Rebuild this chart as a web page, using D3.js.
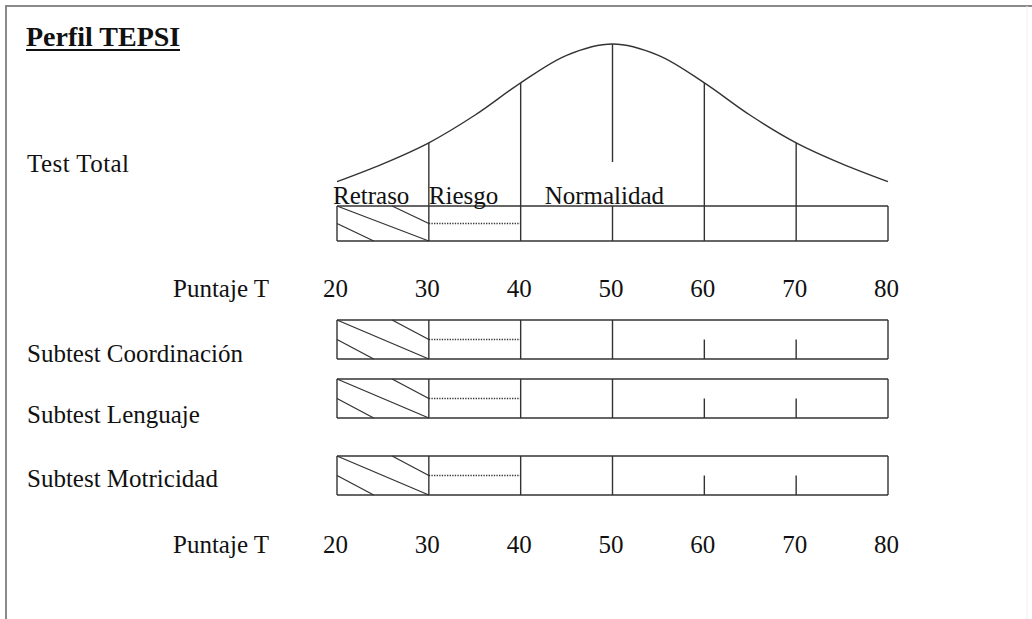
<!DOCTYPE html>
<html>
<head>
<meta charset="utf-8">
<script src="https://cdn.jsdelivr.net/npm/d3@7"></script>
<style>
  body { margin: 0; background: #fff; }
  text { font-family: "Liberation Serif", "Times New Roman", serif; fill: #111; }
</style>
</head>
<body>
<script>
// puntaje T scale values
var ticks = [20, 30, 40, 50, 60, 70, 80];
var zones = ["Retraso", "Riesgo", "Normalidad"];
var zoneStart = [20, 30, 40];
// bell curve (relative height, peak = 100)
var curveX = [20, 25, 30, 35, 40, 45, 50, 55, 60, 65, 70, 75, 80];
var curveY = [15, 26, 39, 56, 76, 93, 100, 93, 76, 56, 39, 26, 15];
var subtests = ["Subtest Coordinación", "Subtest Lenguaje", "Subtest Motricidad"];

var W = 1032, H = 619, ink = "#333", fs = 25;

var svg = d3.select("body").append("svg").attr("width", W).attr("height", H);

// frame
svg.append("line").attr("x1", 6).attr("y1", 6).attr("x2", W).attr("y2", 6)
   .attr("stroke", "#8a8a8a").attr("stroke-width", 2);
svg.append("line").attr("x1", 6).attr("y1", 5).attr("x2", 6).attr("y2", H)
   .attr("stroke", "#8a8a8a").attr("stroke-width", 2);
svg.append("line").attr("x1", 1027).attr("y1", 6).attr("x2", 1027).attr("y2", H)
   .attr("stroke", "#eee").attr("stroke-width", 1);

var x = d3.scaleLinear().domain([20, 80]).range([337, 888]);
var yc = d3.scaleLinear().domain([0, 100]).range([206, 44]);

// title
svg.append("text").attr("x", 26).attr("y", 46).attr("font-size", 28)
   .attr("font-weight", "bold").text("Perfil TEPSI");
svg.append("line").attr("x1", 26).attr("x2", 180).attr("y1", 50).attr("y2", 50)
   .attr("stroke", "#111").attr("stroke-width", 2);

// ---- test total ----
var top0 = 206, bot0 = 241;

var line = d3.line().x(function(d, i){ return x(curveX[i]); })
                    .y(function(d){ return yc(d); })
                    .curve(d3.curveCatmullRom);
svg.append("path").datum(curveY).attr("d", line)
   .attr("fill", "none").attr("stroke", ink).attr("stroke-width", 1.4);

svg.append("text").attr("x", 27).attr("y", 172).attr("font-size", fs)
   .attr("textLength", 102).text("Test Total");

function curveAt(v){ return yc(curveY[curveX.indexOf(v)]); }

// verticals from curve down
svg.selectAll("line.vc")
  .data([30, 40, 60, 70])
  .enter().append("line")
  .attr("class", "vc")
  .attr("x1", function(d){ return x(d); }).attr("x2", function(d){ return x(d); })
  .attr("y1", function(d){ return curveAt(d); }).attr("y2", bot0)
  .attr("stroke", ink).attr("stroke-width", 1.4);
// centre line
svg.append("line").attr("x1", x(50)).attr("x2", x(50)).attr("y1", curveAt(50)).attr("y2", 162)
   .attr("stroke", ink).attr("stroke-width", 1.4);

function bar(yTop, yBot, full){
  var g = svg.append("g");
  g.append("line").attr("x1", x(20)).attr("x2", x(80)).attr("y1", yTop).attr("y2", yTop)
   .attr("stroke", ink).attr("stroke-width", 1.4);
  g.append("line").attr("x1", x(20)).attr("x2", x(80)).attr("y1", yBot).attr("y2", yBot)
   .attr("stroke", ink).attr("stroke-width", 1.4);
  g.selectAll("line.v")
    .data(full)
    .enter().append("line").attr("class", "v")
    .attr("x1", function(d){ return x(d); }).attr("x2", function(d){ return x(d); })
    .attr("y1", yTop).attr("y2", yBot)
    .attr("stroke", ink).attr("stroke-width", 1.4);
  // hatching in Retraso
  var x0 = x(20), x1 = x(30), h = yBot - yTop, w = x1 - x0;
  var hatch = [[0, 0, 1, 1], [0.6, 0, 1, 0.5], [0, 0.5, 0.4, 1]];
  g.selectAll("line.h")
    .data(hatch)
    .enter().append("line").attr("class", "h")
    .attr("x1", function(d){ return x0 + d[0] * w; })
    .attr("y1", function(d){ return yTop + d[1] * h; })
    .attr("x2", function(d){ return x0 + d[2] * w; })
    .attr("y2", function(d){ return yTop + d[3] * h; })
    .attr("stroke", ink).attr("stroke-width", 1.3);
  // dotted Riesgo line
  g.append("line").attr("x1", x(30)).attr("x2", x(40))
   .attr("y1", yTop + h / 2).attr("y2", yTop + h / 2)
   .attr("stroke", ink).attr("stroke-width", 1.6).attr("stroke-dasharray", "1.3,1.3");
  return g;
}

bar(top0, bot0, [20, 50, 80]);

svg.selectAll("text.zone")
  .data(zones)
  .enter().append("text").attr("class", "zone")
  .attr("x", function(d, i){ return x(zoneStart[i]) + [-4, 0, 24][i]; })
  .attr("y", 204).attr("font-size", fs)
  .text(function(d){ return d; });

// tick labels rows
function ticksRow(y){
  var axis = d3.axisBottom(x).tickValues(ticks).tickSize(0).tickPadding(0)
               .tickFormat(d3.format("d"));
  var g = svg.append("g").attr("transform", "translate(-2," + y + ")").call(axis);
  g.select(".domain").remove();
  g.attr("font-family", null).attr("font-size", null);
  g.selectAll("text").attr("font-size", fs)
   .attr("fill", "#111").attr("dy", 0).attr("y", 0);
  svg.append("text").attr("x", 173).attr("y", y).attr("font-size", fs).text("Puntaje T");
}
ticksRow(297);
ticksRow(553);

// ---- subtests ----
var subTop = [320, 379, 456];
var subH = 39;
subtests.forEach(function(name, i){
  var yT = subTop[i], yB = subTop[i] + subH;
  bar(yT, yB, [20, 30, 40, 50, 80]);
  svg.selectAll(null)
    .data([60, 70])
    .enter().append("line")
    .attr("x1", function(d){ return x(d); }).attr("x2", function(d){ return x(d); })
    .attr("y1", yT + subH / 2).attr("y2", yB)
    .attr("stroke", ink).attr("stroke-width", 1.4);
  svg.append("text").attr("x", 27).attr("y", [362, 423, 487][i])
     .attr("font-size", fs).text(name);
});
</script>
</body>
</html>
